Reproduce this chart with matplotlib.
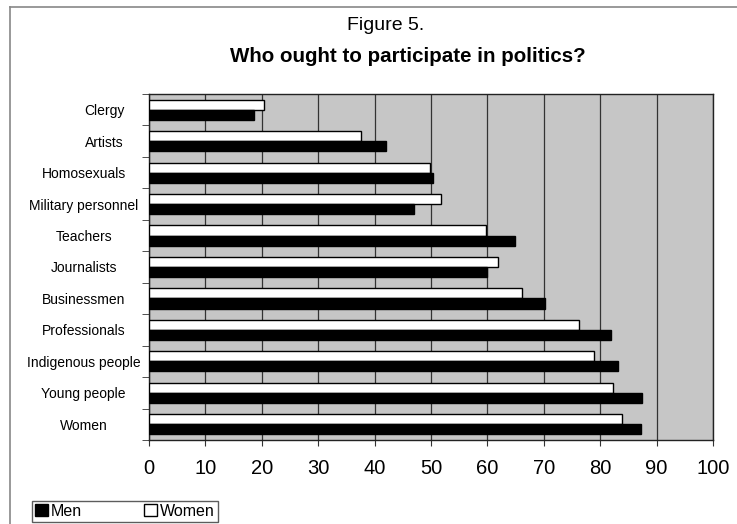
import matplotlib.pyplot as plt
from matplotlib.lines import Line2D
from matplotlib.patches import Patch
import numpy as np

plt.rcParams['font.family'] = ['Liberation Sans', 'DejaVu Sans']

# Share of respondents (%) who think each group ought to participate
groups = ['Clergy', 'Artists', 'Homosexuals', 'Military personnel', 'Teachers',
          'Journalists', 'Businessmen', 'Professionals', 'Indigenous people',
          'Young people', 'Women']
men = [18.6, 42.1, 50.4, 47.0, 64.9, 59.9, 70.3, 82.0, 83.2, 87.4, 87.2]
women = [20.4, 37.6, 49.8, 51.7, 59.8, 61.9, 66.1, 76.2, 78.9, 82.2, 83.9]
xticks = list(range(0, 101, 10))

fig = plt.figure(figsize=(7.37, 5.24), dpi=100)

# page frame (top and left edges only, the rest runs off the page)
fig.add_artist(Line2D([10 / 737, 1.0], [1 - 7 / 524, 1 - 7 / 524], color='#888888', lw=1.2))
fig.add_artist(Line2D([10 / 737, 10 / 737], [0.0, 1 - 7 / 524], color='#888888', lw=1.2))

ax = fig.add_axes([149 / 737, 1 - 440 / 524, 564 / 737, 346 / 524])
ax.set_facecolor('#c6c6c6')

y = np.arange(len(groups))
h = 0.32
ax.barh(y - h / 2, women, height=h, color='white', edgecolor='black', lw=1.0, zorder=3)
ax.barh(y + h / 2, men, height=h, color='black', edgecolor='black', lw=1.0, zorder=3)

ax.set_xlim(0, 100)
ax.set_ylim(len(groups) - 0.5, -0.5)
ax.set_xticks(xticks)
ax.set_xticklabels([str(t) for t in xticks], fontsize=14.5)
ax.tick_params(axis='x', direction='out', length=4, pad=10, color='#333333')
ax.xaxis.grid(True, color='#333333', lw=0.9, zorder=1)

# category names centred in the label column, tick marks on the boundaries
ax.set_yticks(y)
ax.set_yticklabels(groups, fontsize=10, ha='center')
ax.tick_params(axis='y', which='major', length=0, pad=47)
ax.set_yticks(np.arange(-0.5, len(groups), 1.0), minor=True)
ax.tick_params(axis='y', which='minor', direction='out', length=5, color='#333333')
# the two short top labels sit a little further right
for lab in ax.get_yticklabels()[:2]:
    lab.set_x(21 / 564)

for s in ax.spines.values():
    s.set_color('#222222')
    s.set_linewidth(1.0)

fig.text(386 / 737, 1 - 25 / 524, 'Figure 5.', ha='center', va='center', fontsize=14)
fig.text(408 / 737, 1 - 57 / 524, 'Who ought to participate in politics?',
         ha='center', va='center', fontsize=14.8, fontweight='bold')

handles = [Patch(facecolor='black', edgecolor='black'),
           Patch(facecolor='white', edgecolor='black')]
leg = fig.legend(handles, ['Men', 'Women'], loc='lower left',
                 bbox_to_anchor=(32 / 737, 1 - 522 / 524, 186 / 737, 25 / 524), mode='expand',
                 ncol=2, fontsize=11.5, frameon=True, fancybox=False,
                 handlelength=0.8, handleheight=0.8, handletextpad=0.2,
                 borderpad=0.2, borderaxespad=0.0, columnspacing=2.0)
leg.get_frame().set_edgecolor('#333333')
leg.get_frame().set_linewidth(1.0)

fig.savefig('out.png', dpi=100)
